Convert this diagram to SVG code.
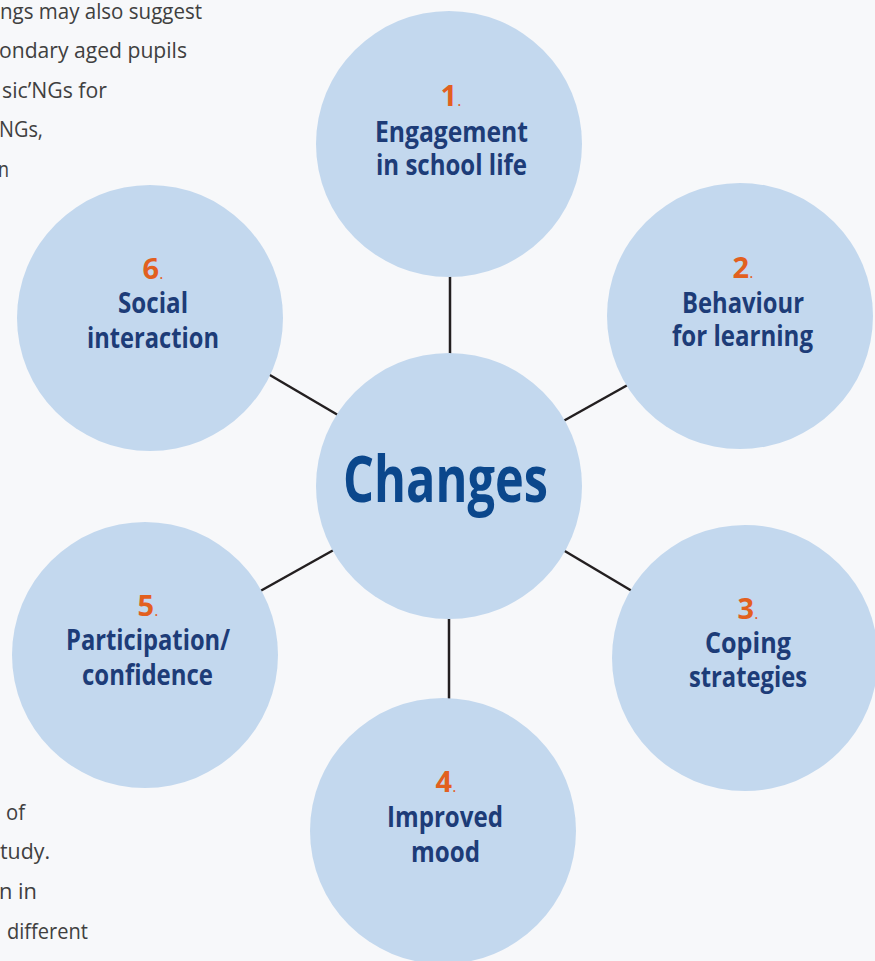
<svg xmlns="http://www.w3.org/2000/svg" width="875" height="961" viewBox="0 0 875 961">
<style>
.bg{fill:#f7f8fa}
.page{font-family:"Open Sans","Noto Sans","DejaVu Sans",sans-serif;font-size:22px;fill:#404040}
.circ{fill:#c3d8ee}
.lbl{font-family:"Open Sans","Noto Sans","DejaVu Sans",sans-serif;font-weight:700;font-size:28px;fill:#1d3c78;text-anchor:middle}
.num{font-family:"Open Sans","Noto Sans","DejaVu Sans",sans-serif;text-anchor:middle;fill:#e2601f}
.num .d{font-weight:700;font-size:29px}
.num .p{font-weight:400;font-size:16px}
.main{font-family:"Open Sans","Noto Sans","DejaVu Sans",sans-serif;font-weight:700;font-size:65px;fill:#0b478c;text-anchor:middle}
.conn line{stroke:#231f20;stroke-width:2.5}
</style>
<rect class="bg" x="0" y="0" width="875" height="961"/>
<g id="page-text">
<text class="page" x="0" y="19" textLength="202" lengthAdjust="spacingAndGlyphs">ngs may also suggest</text>
<text class="page" x="-1" y="58" textLength="188" lengthAdjust="spacingAndGlyphs">ondary aged pupils</text>
<text class="page" x="2" y="98" textLength="105" lengthAdjust="spacingAndGlyphs">sic’NGs for</text>
<text class="page" x="-1" y="137" textLength="44" lengthAdjust="spacingAndGlyphs">NGs,</text>
<text class="page" x="-2" y="177" textLength="11" lengthAdjust="spacingAndGlyphs">n</text>
<text class="page" x="6" y="820" textLength="19" lengthAdjust="spacingAndGlyphs">of</text>
<text class="page" x="0" y="859" textLength="50" lengthAdjust="spacingAndGlyphs">tudy.</text>
<text class="page" x="-1" y="899" textLength="38" lengthAdjust="spacingAndGlyphs">n in</text>
<text class="page" x="7" y="939" textLength="81" lengthAdjust="spacingAndGlyphs">different</text>
</g>
<g id="connectors" class="conn">
<line x1="450" y1="260" x2="450" y2="370"/>
<line x1="449" y1="600" x2="449" y2="715"/>
<line x1="558" y1="424" x2="633" y2="382"/>
<line x1="558" y1="547" x2="637" y2="594"/>
<line x1="339" y1="547" x2="255" y2="594"/>
<line x1="343" y1="418" x2="263" y2="371"/>
</g>
<g id="node-1">
<circle class="circ" cx="449" cy="144" r="133"/>
<text class="num" x="451" y="106"><tspan class="d">1</tspan><tspan class="p">.</tspan></text>
<text class="lbl" x="451.5" y="142" textLength="153" lengthAdjust="spacingAndGlyphs">Engagement</text>
<text class="lbl" x="451.5" y="175" textLength="151" lengthAdjust="spacingAndGlyphs">in school life</text>
</g>
<g id="node-2">
<circle class="circ" cx="740" cy="316" r="133"/>
<text class="num" x="743" y="278"><tspan class="d">2</tspan><tspan class="p">.</tspan></text>
<text class="lbl" x="743" y="313" textLength="122" lengthAdjust="spacingAndGlyphs">Behaviour</text>
<text class="lbl" x="742.5" y="346" textLength="141" lengthAdjust="spacingAndGlyphs">for learning</text>
</g>
<g id="node-3">
<circle class="circ" cx="745" cy="658" r="133"/>
<text class="num" x="748" y="619"><tspan class="d">3</tspan><tspan class="p">.</tspan></text>
<text class="lbl" x="748" y="653" textLength="86" lengthAdjust="spacingAndGlyphs">Coping</text>
<text class="lbl" x="748" y="687" textLength="118" lengthAdjust="spacingAndGlyphs">strategies</text>
</g>
<g id="node-4">
<circle class="circ" cx="443" cy="831" r="133"/>
<text class="num" x="446" y="792"><tspan class="d">4</tspan><tspan class="p">.</tspan></text>
<text class="lbl" x="445" y="827" textLength="116" lengthAdjust="spacingAndGlyphs">Improved</text>
<text class="lbl" x="445.5" y="862" textLength="69" lengthAdjust="spacingAndGlyphs">mood</text>
</g>
<g id="node-5">
<circle class="circ" cx="145" cy="655" r="133"/>
<text class="num" x="148" y="616"><tspan class="d">5</tspan><tspan class="p">.</tspan></text>
<text class="lbl" x="148" y="650" textLength="164" lengthAdjust="spacingAndGlyphs">Participation/</text>
<text class="lbl" x="147.5" y="685" textLength="131" lengthAdjust="spacingAndGlyphs">confidence</text>
</g>
<g id="node-6">
<circle class="circ" cx="150" cy="318" r="133"/>
<text class="num" x="153" y="279"><tspan class="d">6</tspan><tspan class="p">.</tspan></text>
<text class="lbl" x="153" y="313" textLength="70" lengthAdjust="spacingAndGlyphs">Social</text>
<text class="lbl" x="153" y="348" textLength="132" lengthAdjust="spacingAndGlyphs">interaction</text>
</g>
<g id="node-center">
<circle class="circ" cx="449" cy="486" r="133"/>
<text class="main" x="445.5" y="502" textLength="205" lengthAdjust="spacingAndGlyphs">Changes</text>
</g>
</svg>
